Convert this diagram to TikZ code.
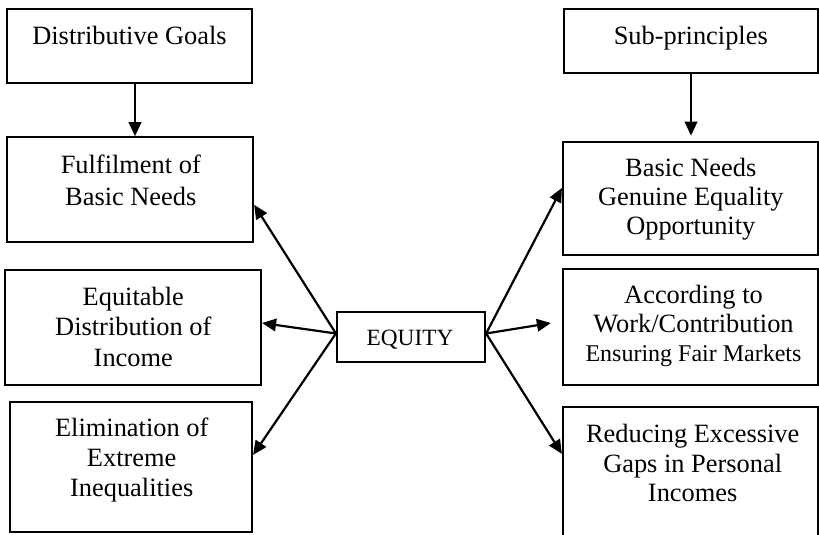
\documentclass[tikz,border=0pt]{standalone}
\usepackage{fontspec}
\setmainfont{Liberation Serif}
\usetikzlibrary{arrows.meta}
\begin{document}
\begin{tikzpicture}[x=1pt,y=-1pt,
  box/.style={draw,line width=2.2pt,rectangle,inner sep=0pt},
  txt/.style={anchor=base,align=center,inner sep=0pt,font=\fontsize{26.4}{30}\selectfont},
  conn/.style={line width=2.2pt,-{Triangle[length=14pt,width=12.5pt]}}]
\clip (0,0) rectangle (819,535);
\fill[white] (0,0) rectangle (819,535);
% boxes
\node[box,minimum width=244.4pt,minimum height=73.4pt] (dg) at (129.5,46) {};
\node[box,minimum width=245.7pt,minimum height=105pt] (fb) at (130.2,189.8) {};
\node[box,minimum width=256pt,minimum height=115pt] (ed) at (133,327.5) {};
\node[box,minimum width=242pt,minimum height=129.7pt] (ei) at (131,466.9) {};
\node[box,minimum width=254pt,minimum height=64pt] (sp) at (691,41.3) {};
\node[box,minimum width=255pt,minimum height=113.3pt] (bn) at (690.5,198.4) {};
\node[box,minimum width=255pt,minimum height=116pt] (ac) at (690.5,327) {};
\node[box,minimum width=255pt,minimum height=153pt] (rg) at (690.5,483.5) {};
\node[box,minimum width=148pt,minimum height=50pt] (eq) at (411,337) {};
% texts (anchor base = baseline of last line)
\node[txt] (tdg) at (129.5,45) {Distributive Goals};
\node[txt,font=\fontsize{26.4}{31.5}\selectfont] (tfb) at (130.8,205) {Fulfilment of\\Basic Needs};
\node[txt,font=\fontsize{26.4}{30.5}\selectfont] (ted) at (133.3,366) {Equitable\\Distribution of\\Income};
\node[txt] (tei) at (131.7,496) {Elimination of\\Extreme\\Inequalities};
\node[txt] (tsp) at (690.8,45) {Sub-principles};
\node[txt,font=\fontsize{26.4}{29}\selectfont] (tbn) at (690.8,234) {Basic Needs\\Genuine Equality\\Opportunity};
\node[txt,font=\fontsize{26.4}{29}\selectfont] (tac) at (693.5,361.7) {According to\\Work/Contribution\\{\fontsize{24}{29}\selectfont Ensuring Fair Markets}};
\node[txt,font=\fontsize{26.4}{29.5}\selectfont] (trg) at (692.7,501.7) {Reducing Excessive\\Gaps in Personal\\Incomes};
\node[txt,font=\fontsize{23.3}{28}\selectfont] (teq) at (410,345) {EQUITY};
% connectors
\draw[conn] ([xshift=5.5pt]dg.south) -- ([xshift=5.5pt]dg.south |- fb.north);
\draw[conn,shorten >=5pt] (sp.south) -- (sp.south |- bn.north);
\draw[conn] ([yshift=3.5pt]eq.west) -- ([yshift=-15pt]fb.east);
\draw[conn] ([yshift=3.5pt]eq.west) -- ([yshift=4.5pt]ed.east);
\draw[conn] ([yshift=3.5pt]eq.west) -- ([yshift=12pt]ei.east);
\draw[conn] ([yshift=3.5pt]eq.east) -- ([yshift=10.4pt]bn.west);
\draw[conn] ([yshift=3.5pt]eq.east) -- ([xshift=-11pt,yshift=4pt]ac.west);
\draw[conn] ([yshift=3.5pt]eq.east) -- ([yshift=-48pt]rg.north west);
\end{tikzpicture}
\end{document}
